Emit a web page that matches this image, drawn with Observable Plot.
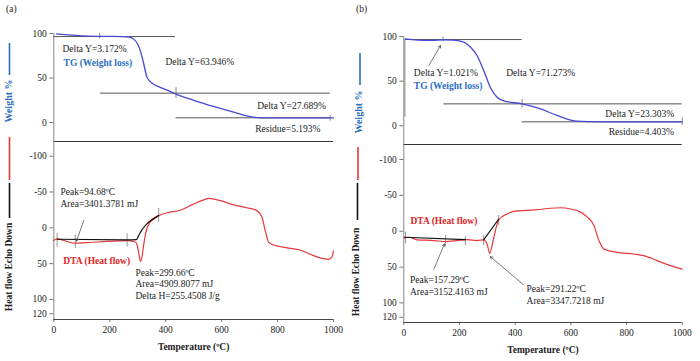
<!DOCTYPE html>
<html><head><meta charset="utf-8">
<script src="https://cdn.jsdelivr.net/npm/d3@7"></script>
<script src="https://cdn.jsdelivr.net/npm/@observablehq/plot@0.6"></script>
<style>
body{margin:0;background:#fff;}
#root{position:relative;width:700px;height:361px;background:#fff;font-family:'Liberation Serif','Times New Roman',serif;overflow:hidden;}
#root > svg, #root > div{position:absolute;}
</style></head>
<body><div id="root"></div>
<script>
// ---------- Data: panel (a) ----------
const tgA_T = [10,50,100,150,200,250,270,285,300,310,320,333,345,357,380,400,437,500,583,643,702,738,800,900,1000];
const tgA_W = [99.6,98.5,97.4,96.9,96.8,96.6,96,94,88,80,68,51,46,43,39.5,37,32,25,17,11.6,6.7,5.3,5.1,5.2,5.2];
const dtaA_T = [0,10,40,71,130,190,262,290,298,304,310,316,322,328,340,357,375,405,452,494,536,554,595,643,690,726,744,756,768,780,833,881,917,952,982,994,1000];
const dtaA_H = [17.6,15.5,18,21.5,20.5,19,18,19.5,24,36,47,39,22,8.4,-5.6,-12,-17,-21,-24.5,-32,-39,-41,-38,-32,-28,-24,-15,4,20,23,28,31,37,42,44,41,32];
const baseA_T = [12,262,295,302,310,333,375];
const baseA_H = [16,16.8,16.5,12,6,-5.6,-17];
const tgA_steps = [{x1:0,x2:435,y:96.6},{x1:167,x2:988,y:33},{x1:437,x2:988,y:5.3}];
const tgA_marks = [{x:164,y1:94,y2:100.3},{x:437,y1:27,y2:39.3},{x:988,y1:1.5,y2:7.9}];
const tgA_notes = ["Delta Y=3.172%","TG (Weight loss)","Delta Y=63.946%","Delta Y=27.689%","Residue=5.193%"];
const tgA_noteT = [31,35,399,727,720];
const tgA_noteW = [83,67.4,68.5,19,-6.7];
const dtaA_marks = [{x:12,y1:8,y2:27},{x:77,y1:10,y2:29},{x:262,y1:8,y2:27},{x:375,y1:-27,y2:-8}];
const dtaA_notes = ["Peak=94.68ºC","Area=3401.3781 mJ","DTA (Heat flow)","Peak=299.66ºC","Area=4909.8077 mJ","Delta H=255.4508 J/g"];
const dtaA_noteT = [24,24,34,292,292,292];
const dtaA_noteH = [-49.7,-33.5,45.7,62.8,78.8,95];
const dtaA_arrows = [{x1:107,y1:-10,x2:81,y2:18.7}];

// ---------- Data: panel (b) ----------
const tgB_T = [6,50,100,144,180,216,240,263,287,311,335,359,425,491,551,623,707,1000];
const tgB_W = [97.4,96,95.6,96.3,96,93.7,88,78.7,62,43,32,28,24.6,19,11.6,5.2,4.5,4.4];
const dtaB_T = [2,18,48,108,150,192,228,263,287,299,309,317,329,341,371,395,443,479,527,563,599,635,659,683,701,719,766,826,862,910,958,1000];
const dtaB_H = [9.3,8.4,12,13,14.5,13,11.7,13,12,17.8,31,20,-1,-16,-24,-27.6,-29,-30,-32,-32.7,-31,-26.6,-19.6,-8,13,25,29.4,31.8,34,41,48,52.8];
const baseB1_T = [2,221];
const baseB1_H = [8.4,11.7];
const baseB2_T = [287,311,341];
const baseB2_H = [12,-1,-17];
const tgB_steps = [{x1:6,x2:425,y:96.6},{x1:144,x2:1000,y:24.6},{x1:425,x2:1000,y:4.5}];
const tgB_marks = [{x:141,y1:94,y2:99.3},{x:4,y1:9.7,y2:97},{x:425,y1:20,y2:29.5},{x:1000,y1:0.4,y2:9}];
const tgB_notes = ["Delta Y=1.021%","TG (Weight loss)","Delta Y=71.273%","Delta Y=23.303%","Residue=4.403%"];
const tgB_noteT = [36,36,368,724,736];
const tgB_noteW = [58.9,45,58.9,13.4,-7.2];
const tgB_arrows = [{x1:90,y1:67.5,x2:132,y2:90}];
const dtaB_marks = [{x:6,y1:1.4,y2:17.8},{x:150,y1:6,y2:22},{x:221,y1:7.5,y2:20},{x:287,y1:6,y2:20},{x:341,y1:-22,y2:-8}];
const dtaB_notes = ["DTA (Heat flow)","Peak=157.29ºC","Area=3152.4163 mJ","Peak=291.22ºC","Area=3347.7218 mJ"];
const dtaB_noteT = [24,22,22,441,441];
const dtaB_noteH = [-14,67.4,85,80.3,96.7];
const dtaB_arrows = [{x1:108,y1:53,x2:146,y2:17.8},{x1:431,y1:75,x2:311,y2:35.5}];

// ---------- Axis ticks ----------
const tgTicks = [0,50,100];
const dtaTicks = [-100,-50,0,50,100,120];
const tempTicks = [0,200,400,600,800,1000];

const SERIF = "'Liberation Serif','Times New Roman',serif";
const FS = "9.5px";
const BLUE_LINE = "#4747d6", BLUE_TXT = "#2a6fc0", RED = "#e8383c", RED_TXT = "#e02424";
const zip = (xs, ys) => xs.map((x, i) => ({x, y: ys[i]}));
const notesOf = (texts, xs, ys) => texts.map((t, i) => ({text: t, x: xs[i], y: ys[i]}));

function tgPlot(o) {
  const notes = notesOf(o.notes, o.noteT, o.noteW);
  return Plot.plot({
    width: 350, height: o.height, marginLeft: o.ml, marginRight: o.mr, marginTop: 22, marginBottom: 4,
    x: {domain: [0, 1000], axis: null},
    y: {domain: o.yDom},
    style: {fontFamily: SERIF, fontSize: FS, background: "transparent", overflow: "visible", color: "#222"},
    marks: [
      Plot.axisY({ticks: tgTicks, tickSize: 4, tickPadding: 3, tickFormat: d => String(d), label: null, stroke: "#777"}),
      Plot.ruleX([{x: 0, y1: o.yDom[0], y2: 100}], {x: "x", y1: "y1", y2: "y2", stroke: "#888"}),
      Plot.ruleY([{y: o.yDom[0]}], {y: "y", x1: 0, x2: 1000, stroke: "#333", strokeWidth: 1.2}),
      Plot.ruleY(o.steps, {y: "y", x1: "x1", x2: "x2", stroke: "#555"}),
      Plot.ruleX(o.marks, {x: "x", y1: "y1", y2: "y2", stroke: "#888"}),
      Plot.line(zip(o.T, o.W), {x: "x", y: "y", stroke: BLUE_LINE, strokeWidth: 1.3, curve: "monotone-x"}),
      Plot.arrow(o.arrows || [], {x1: "x1", y1: "y1", x2: "x2", y2: "y2", stroke: "#555", strokeWidth: 0.8, headLength: 5}),
      Plot.text(notes.filter(d => !d.text.startsWith("TG")), {x: "x", y: "y", text: "text", textAnchor: "start", fill: "#222"}),
      Plot.text(notes.filter(d => d.text.startsWith("TG")), {x: "x", y: "y", text: "text", textAnchor: "start", fill: BLUE_TXT, fontWeight: "bold"})
    ]
  });
}

function dtaPlot(o) {
  const notes = notesOf(o.notes, o.noteT, o.noteH);
  return Plot.plot({
    width: 350, height: 231, marginLeft: o.ml, marginRight: o.mr, marginTop: o.mt, marginBottom: o.mb,
    x: {domain: [0, 1000]},
    y: {domain: o.yDom},
    style: {fontFamily: SERIF, fontSize: FS, background: "transparent", overflow: "visible", color: "#222"},
    marks: [
      Plot.axisY({ticks: dtaTicks, tickSize: 4, tickPadding: 3, tickFormat: d => String(d), label: null, stroke: "#777"}),
      Plot.axisX({ticks: tempTicks, tickSize: 3, tickPadding: 4, tickFormat: d => String(d), label: null, stroke: "#777"}),
      Plot.ruleX([{x: 0}], {x: "x", stroke: "#888"}),
      Plot.ruleY([{y: o.yDom[0]}], {y: "y", x1: 0, x2: 1000, stroke: "#444"}),
      Plot.ruleX(o.marks, {x: "x", y1: "y1", y2: "y2", stroke: "#999"}),
      Plot.line(zip(o.T, o.H), {x: "x", y: "y", stroke: RED, strokeWidth: 1.2, curve: "monotone-x"}),
      ...o.bases.map(b => Plot.line(b, {x: "x", y: "y", stroke: "#111", strokeWidth: 1.2, curve: "monotone-x"})),
      Plot.arrow(o.arrows, {x1: "x1", y1: "y1", x2: "x2", y2: "y2", stroke: "#555", strokeWidth: 0.8, headLength: 5}),
      Plot.text(notes.filter(d => !d.text.startsWith("DTA")), {x: "x", y: "y", text: "text", textAnchor: "start", fill: "#222"}),
      Plot.text(notes.filter(d => d.text.startsWith("DTA")), {x: "x", y: "y", text: "text", textAnchor: "start", fill: RED_TXT, fontWeight: "bold"}),
      Plot.text(["Temperature (ºC)"], {frameAnchor: "bottom", dy: 30, text: d => d, fontWeight: "bold", fill: "#222"})
    ]
  });
}

const root = document.getElementById("root");
function place(el, left, top) { el.style.left = left + "px"; el.style.top = top + "px"; root.appendChild(el); }

place(tgPlot({height: 145, ml: 53.3, mr: 17, yDom: [-21.35, 112.4], T: tgA_T, W: tgA_W, steps: tgA_steps, marks: tgA_marks,
  notes: tgA_notes, noteT: tgA_noteT, noteW: tgA_noteW}), 0, 0);
place(dtaPlot({ml: 53.3, mr: 17, mt: 11, mb: 42, yDom: [128, -120.5], T: dtaA_T, H: dtaA_H,
  bases: [zip(baseA_T, baseA_H)], marks: dtaA_marks, notes: dtaA_notes, noteT: dtaA_noteT, noteH: dtaA_noteH, arrows: dtaA_arrows}), 0, 130);
place(tgPlot({height: 148, ml: 53.3, mr: 18.3, yDom: [-20.9, 115.7], T: tgB_T, W: tgB_W, steps: tgB_steps, marks: tgB_marks,
  notes: tgB_notes, noteT: tgB_noteT, noteW: tgB_noteW, arrows: tgB_arrows}), 350, 0);
place(dtaPlot({ml: 53.3, mr: 18.3, mt: 14, mb: 39, yDom: [127.3, -120.9], T: dtaB_T, H: dtaB_H,
  bases: [zip(baseB1_T, baseB1_H), zip(baseB2_T, baseB2_H)], marks: dtaB_marks, notes: dtaB_notes, noteT: dtaB_noteT, noteH: dtaB_noteH, arrows: dtaB_arrows}), 350, 130);

// ---------- Panel labels, rotated axis titles with legend swatches ----------
const ns = "http://www.w3.org/2000/svg";
const ov = document.createElementNS(ns, "svg");
ov.setAttribute("width", 700); ov.setAttribute("height", 361);
ov.style.position = "absolute"; ov.style.left = "0px"; ov.style.top = "0px"; ov.style.pointerEvents = "none";
root.appendChild(ov);
function txt(s, x, y, opt = {}) {
  const t = document.createElementNS(ns, "text");
  t.textContent = s;
  t.setAttribute("x", x); t.setAttribute("y", y);
  t.setAttribute("font-family", SERIF);
  t.setAttribute("font-size", opt.size || 9.5);
  t.setAttribute("fill", opt.fill || "#222");
  t.setAttribute("text-anchor", opt.anchor || "start");
  t.setAttribute("dominant-baseline", "middle");
  if (opt.bold) t.setAttribute("font-weight", "bold");
  if (opt.rot) t.setAttribute("transform", `rotate(-90 ${x} ${y})`);
  ov.appendChild(t);
}
function seg(x, y1, y2, c) {
  const l = document.createElementNS(ns, "line");
  l.setAttribute("x1", x); l.setAttribute("x2", x); l.setAttribute("y1", y1); l.setAttribute("y2", y2);
  l.setAttribute("stroke", c); l.setAttribute("stroke-width", 1.6);
  ov.appendChild(l);
}
txt("(a)", 6, 10);
txt("(b)", 356, 10);
// panel a
seg(9.5, 43, 75, BLUE_TXT);
txt("Weight %", 9.5, 101, {rot: true, anchor: "middle", bold: true, fill: BLUE_TXT, size: 10});
seg(9.5, 137, 180, RED);
seg(9.5, 183, 218, "#111");
txt("Heat flow Echo Down", 9.5, 267, {rot: true, anchor: "middle", bold: true, size: 9.5});
// panel b
seg(360, 53, 85, BLUE_TXT);
txt("Weight %", 360, 112, {rot: true, anchor: "middle", bold: true, fill: BLUE_TXT, size: 10});
seg(358, 147, 180, RED);
seg(357.5, 183, 220, "#111");
txt("Heat flow Echo Down", 357, 272, {rot: true, anchor: "middle", bold: true, size: 9.5});
</script></body></html>
